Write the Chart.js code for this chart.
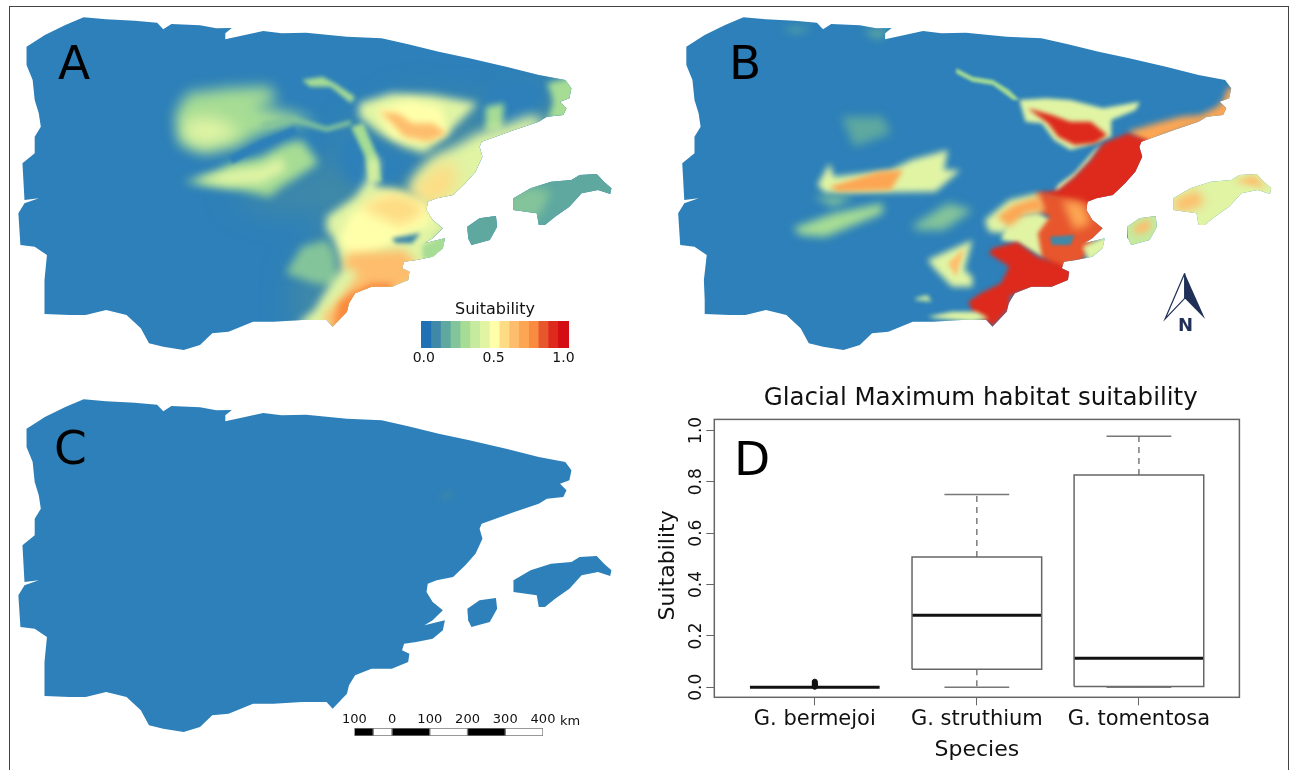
<!DOCTYPE html>
<html>
<head>
<meta charset="utf-8">
<script src="https://cdn.jsdelivr.net/npm/chart.js@4"></script>
<style>
  html, body { margin: 0; background: #fff; width: 1290px; height: 770px; overflow: hidden; }
  canvas { position: absolute; }
  #frame { position: absolute; left: 9px; top: 6px; width: 1278px; height: 800px; border: 1px solid #444; }
  .tag { position: absolute; font: 47px "DejaVu Sans"; color: #000; line-height: 48px; }
  #km { position: absolute; left: 560px; top: 713px; font: 13px "DejaVu Sans"; color: #111; }
  #north { position: absolute; left: 1178px; top: 314px; font: bold 18px "DejaVu Sans"; color: #1f2f57; }
</style>
</head>
<body>
<div id="frame"></div>
<canvas id="mapA" width="640" height="385" style="left:0;top:0"></canvas>
<canvas id="mapB" width="640" height="385" style="left:650px;top:0"></canvas>
<canvas id="mapC" width="640" height="385" style="left:0;top:382px"></canvas>
<canvas id="legendBar" width="190" height="70" style="left:400px;top:300px"></canvas>
<canvas id="scaleBar" width="220" height="40" style="left:340px;top:705px"></canvas>
<canvas id="boxes" width="640" height="390" style="left:650px;top:380px"></canvas>
<div class="tag" style="left:58px;top:39px">A</div>
<div class="tag" style="left:729px;top:39px">B</div>
<div class="tag" style="left:54px;top:424px">C</div>
<div class="tag" style="left:734px;top:435px">D</div>
<div id="km">km</div>
<div id="north">N</div>
<script>
// map units are raster cells, x 0-1568 and y 0-1155 for every panel
const coastX = [205,260,330,385,400,420,490,530,568,552,552,600,645,690,750,850,935,1000,1075,1150,1240,1320,1385,1400,1395,1372,1388,1380,1340,1320,1260,1180,1175,1182,1165,1140,1110,1070,1048,1045,1060,1085,1060,1040,1090,1085,1060,1020,990,985,1003,1000,960,910,870,855,850,815,800,740,670,620,590,560,520,490,450,400,365,345,310,260,210,170,110,110,108,115,85,50,45,60,95,60,55,85,85,100,95,85,80,65,65,110,160,205];
const coastY = [52,58,62,68,88,72,76,85,84,100,118,105,93,100,98,110,115,133,155,175,200,225,240,265,295,305,325,345,350,365,390,425,440,470,515,550,585,595,605,630,660,685,715,730,715,745,770,780,785,805,815,840,860,860,880,910,935,980,960,960,965,965,980,995,1000,1035,1050,1040,1030,985,945,930,945,945,942,900,840,765,740,735,640,610,595,600,490,460,410,380,340,300,240,195,140,105,75,52];
const mallorcaX = [1258,1300,1350,1400,1420,1462,1480,1498,1495,1465,1425,1395,1360,1335,1320,1315,1258,1258];
const mallorcaY = [595,565,545,540,525,522,545,565,582,570,580,620,650,675,675,640,630,595];
const ibizaX = [1145,1175,1215,1218,1200,1155,1147,1145];
const ibizaY = [680,655,648,680,720,735,715,680];
const panelBShift = 24;

const legendBreaks = [-0.02,0.05,0.12,0.19,0.26,0.33,0.40,0.47,0.54,0.61,0.68,0.75,0.82,0.89,0.96,1.04];
const legendColors = ["#1f70b4","#3f88a8","#5ea8a0","#84c49a","#a6dc94","#c6ea9e","#e0f4a4","#ffffaa","#fddc85","#fdbd6c","#fca653","#f98a3f","#e7562d","#dd2a1c","#d40d14"];
const legendTicks = [0, 0.5, 1];
const landColor = "#2d80b9";

const scaleBreaks = [-100,-50,0,100,200,300,400];
const scaleColors = ["#000","#fff","#000","#fff","#000","#fff"];
const scaleTicks = [-100,0,100,200,300,400];

const species = ["G. bermejoi","G. struthium","G. tomentosa"];
const boxLow = [0, 0, 0];
const boxQ1 = [0, 0.07, 0.003];
const boxMedian = [0, 0.28, 0.113];
const boxQ3 = [0.001, 0.507, 0.826];
const boxHigh = [0.001, 0.75, 0.977];
const bermejoiOutliers = [0.002,0.005,0.008,0.011,0.014,0.018,0.022];
const suitTicks = [0,0.2,0.4,0.6,0.8,1];

// panel A suitability patches: value, softness, then x,y pairs
const aEastFade = [560,590,640,560,790,500,860,370,1000,280,1180,300,1340,235,1420,260,1410,360,1210,440,1220,600,1110,720,1110,790,1030,850,870,960,815,1000,710,975,720,800,790,700,800,640,650,640];
const aMidBlue = [880,390,960,440,1040,470,1000,530,950,560,880,570,830,520,820,420];
const aPyrBlue = [1220,230,1330,240,1340,300,1290,360,1240,380,1180,350,1180,290];
const aMeseta = [430,340,460,280,560,265,660,260,680,300,620,320,720,340,780,370,720,370,640,400,580,440,500,460,440,430];
const aMesetaCore = [450,360,520,350,590,390,560,420,490,440,450,410];
const aCentral = [450,545,520,520,570,490,640,470,700,430,740,420,770,470,780,490,730,530,690,560,660,590,590,570,520,560];
const aCentralCore = [480,540,570,510,640,500,690,470,700,510,640,550,560,555];
const aDarkCleft = [560,470,640,420,720,380,730,400,640,445,570,490];
const aMidStreak = [640,370,720,350,800,380,860,360,860,375,800,395,720,365,650,385];
const aRiverStreak = [860,380,890,370,925,470,935,545,905,545,895,470];
const aEbroThin = [740,240,790,230,820,250,870,290,860,310,810,260,760,260];
const aEbroBasin = [880,310,960,280,1060,285,1170,310,1130,360,1080,420,1040,460,990,440,930,400,880,350];
const aEbroCore = [920,330,1000,300,1080,320,1100,400,1030,430,960,410];
const aEbroOrange = [930,335,975,340,1010,370,1060,370,1095,400,1050,425,990,410,960,370];
const aPyrenees = [1190,320,1235,310,1230,390,1190,395];
const aCatalan = [1130,430,1170,400,1240,375,1300,345,1340,365,1280,410,1210,440,1220,600,1110,620,1048,625,1000,570,1020,520,1060,470];
const aValencia = [1040,530,1090,480,1120,510,1115,565,1080,605,1040,615,1005,565];
const aEast = [800,650,870,590,900,540,905,470,930,480,920,560,980,570,1040,600,1070,640,1110,690,1060,720,1110,720,1090,790,1030,810,1030,860,960,880,870,890,850,950,815,1000,760,985,730,970,770,930,800,870,840,800,820,720,800,690];
const aEastCore = [860,640,940,580,1040,610,1060,670,1000,700,920,760,860,780,830,720];
const aEastOrange = [880,620,960,580,1020,600,1040,640,980,680,930,650];
const aBlueCut = [960,715,1030,700,1010,730,970,730];
const aMurcia = [850,760,990,750,1020,790,1030,850,960,880,880,890,860,950,815,1000,790,950,830,900,880,820,840,800];
const aMurciaDeep = [860,880,910,850,960,850,960,870,880,895,860,950,815,990,830,910];
const aTail = [1035,735,1100,705,1110,750,1070,790,1035,775];
const aCreus = [1340,250,1400,230,1420,270,1410,300,1400,360,1340,360,1355,310,1350,280];
const aStreaks = [700,820,740,740,800,720,820,760,830,860,770,850];
const aMallorcaBase = [1240,510,1520,500,1520,600,1340,700,1240,650];
const aMallorcaWest = [1240,590,1300,560,1350,575,1320,650,1240,650];
const aIbizaBase = [1130,640,1230,640,1230,745,1130,745];
const patchesA = [[0.13,14,aEastFade],[0,7,aMidBlue],[0,6,aPyrBlue],[0.14,2,aMallorcaBase],[0.14,2,aIbizaBase],[0.2,5,aMallorcaWest],[0.2,4,aStreaks],[0.3,7,aMeseta],[0.4,8,aMesetaCore],[0.28,5,aCentral],[0.4,5,aCentralCore],[0,1.5,aDarkCleft],[0.2,2,aMidStreak],[0.3,2,aRiverStreak],[0.3,2,aEbroThin],[0.4,4,aEbroBasin],[0.47,4,aEbroCore],[0.6,3,aEbroOrange],[0.33,3,aPyrenees],[0.42,4,aEast],[0.45,6,aCatalan],[0.58,8,aValencia],[0.5,5,aEastCore],[0.56,6,aEastOrange],[0.1,2,aBlueCut],[0.6,5,aMurcia],[0.78,3,aMurciaDeep],[0.32,2,aTail],[0.28,3,aCreus]];

// panel B suitability patches
const bThin = [750,205,790,230,840,240,880,270,905,300,890,300,840,255,790,245,750,220];
const bEbroFringe = [905,300,970,295,1030,300,1110,325,1200,305,1190,330,1130,360,1130,410,1090,430,1030,450,990,420,960,370,920,365];
const bEbroRed = [925,325,985,345,1030,365,1080,365,1120,405,1090,430,1040,435,1000,410,975,370];
const bStrip = [1170,395,1240,370,1300,350,1350,345,1390,320,1405,300,1415,265,1450,260,1440,350,1365,370,1320,385,1260,410,1220,440];
const bFringe = [1000,555,1040,520,1090,450,1110,430,1080,480,1040,535,990,585];
const bMain = [1110,430,1170,400,1220,420,1240,470,1210,530,1170,570,1130,610,1075,615,1065,650,1000,600,950,580,1000,570,1040,530,1080,480];
const bRing = [880,650,950,640,1050,700,960,770,900,730,860,720];
const bMiddle = [950,575,1010,590,1075,610,1090,645,1125,685,1090,720,1060,780,1000,810,960,770,950,700,980,650,930,620];
const bPalePeach = [1010,600,1060,610,1080,670,1040,690];
const bArmHalo = [820,660,880,600,950,580,960,640,900,650,870,700,830,695];
const bArm = [850,650,890,615,950,590,970,630,920,640,880,680];
const bSouth = [840,745,900,725,950,770,1000,790,1040,815,1035,860,960,880,910,875,880,890,885,920,840,980,790,935,780,905,810,880,860,850,880,800,830,760];
const bTailWest = [680,950,740,935,800,935,830,955,790,965,700,955];
const bGapBlue = [980,710,1040,705,1030,735,985,735];
const bBand = [410,555,440,490,450,530,590,510,640,480,730,450,720,510,760,510,700,575,430,580];
const bBandOrange = [440,560,560,515,620,510,590,570,460,575];
const bLower = [350,685,450,640,570,610,570,640,430,710,370,705];
const bLowerEast = [640,680,730,610,790,630,720,690,660,690];
const bUnderBand = [400,590,500,590,450,620];
const bFaint = [470,350,570,350,590,400,500,440];
const bBetic = [680,780,790,720,770,810,790,830,790,860,740,860,700,810];
const bBeticOrange = [730,790,770,745,750,830,745,820];
const bSmall = [650,895,680,885,690,905,650,900];
const bMallorca = [1260,510,1540,500,1540,600,1360,700,1260,650];
const bMallorcaWest = [1285,600,1340,570,1360,610,1310,635,1285,630];
const bMallorcaEast = [1430,545,1480,525,1510,565,1450,550];
const bIbiza = [1150,640,1250,640,1250,745,1150,745];
const bIbizaCore = [1185,680,1225,655,1225,690,1190,705];
const bAlicante = [1060,740,1120,705,1125,745,1075,785];
const bNorthA = [320,85,400,80,360,100];
const bNorthB = [520,90,590,85,560,120];
const patchesB = [[0.14,5,bFaint],[0.14,4,bNorthA],[0.14,4,bNorthB],[0.28,1.5,bThin],[0.42,2,bEbroFringe],[0.9,2,bEbroRed],[0.68,3,bStrip],[0.5,2,bFringe],[0.42,2,bRing],[0.92,2,bMain],[0.86,2,bMiddle],[0.7,4,bPalePeach],[0.45,3,bArmHalo],[0.7,3,bArm],[0.92,2,bSouth],[0.45,2,bTailWest],[0.07,1.5,bGapBlue],[0.42,3,bBand],[0.68,2.5,bBandOrange],[0.3,4,bLower],[0.22,5,bLowerEast],[0.22,4,bUnderBand],[0.42,3,bBetic],[0.62,2,bBeticOrange],[0.35,2,bSmall],[0.42,2,bMallorca],[0.62,5,bMallorcaWest],[0.6,3,bMallorcaEast],[0.34,2,bIbiza],[0.6,3,bIbizaCore],[0.4,2,bAlicante]];

const cFaint = [1075,345,1105,325,1110,340,1085,355];
const patchesC = [[0.07,3,cFaint]];

// north arrow, panel B units
const arrowDarkX = [1310,1360,1310,1310];
const arrowDarkY = [820,957,895,820];
const arrowLightX = [1310,1262,1310,1310];
const arrowLightY = [820,957,895,820];

function polygon(xs, ys, color) {
  return { data: xs.map((x, i) => ({ x: x, y: ys[i] })), showLine: true, fill: "shape", backgroundColor: color, borderColor: color, borderWidth: 0, pointRadius: 0, tension: 0 };
}

function patch(value, soft, flat) {
  const xs = [], ys = [];
  for (let i = 0; i < flat.length; i += 2) { xs.push(flat[i]); ys.push(flat[i + 1]); }
  xs.push(flat[0]); ys.push(flat[1]);
  const color = value === 0 ? landColor : legendColors[Math.min(14, Math.floor(value * 15))];
  const d = polygon(xs, ys, color);
  d.soft = soft;
  return d;
}

function showMap(id, shift, patches, extras) {
  const land = [
    polygon(coastX.map((x) => x + shift), coastY, landColor),
    polygon(mallorcaX.map((x) => x + shift), mallorcaY, landColor),
    polygon(ibizaX.map((x) => x + shift), ibizaY, landColor),
  ];
  const all = land.concat(patches.map((p) => patch(p[0], p[1], p[2]))).concat(extras);
  all.forEach((d, i) => { d.order = all.length - i; });
  const lastPatch = land.length + patches.length - 1;

  const landClip = {
    id: "landClip",
    afterDatasetDraw(chart, args) {
      const ctx = chart.ctx;
      if (args.index === land.length - 1) {
        ctx.save();
        ctx.beginPath();
        land.forEach((d) => {
          d.data.forEach((p, i) => {
            const px = chart.scales.x.getPixelForValue(p.x);
            const py = chart.scales.y.getPixelForValue(p.y);
            if (i === 0) ctx.moveTo(px, py); else ctx.lineTo(px, py);
          });
          ctx.closePath();
        });
        ctx.clip();
      }
      if (args.index >= land.length - 1 && args.index < lastPatch) {
        ctx.filter = "blur(" + all[args.index + 1].soft + "px)";
      }
      if (args.index === lastPatch) ctx.restore();
    },
  };

  return new Chart(document.getElementById(id), {
    type: "scatter",
    data: { datasets: all },
    options: {
      responsive: false,
      animation: false,
      plugins: { legend: { display: false }, tooltip: { enabled: false } },
      layout: { padding: 0 },
      scales: {
        x: { display: false, min: 0, max: 1568 },
        y: { display: false, min: 0, max: 1155, reverse: true },
      },
    },
    plugins: [landClip],
  });
}

showMap("mapA", 0, patchesA, []);
showMap("mapB", panelBShift, patchesB, [
  polygon(arrowDarkX, arrowDarkY, "#1f2f57"),
  { data: arrowLightX.map((x, i) => ({ x: x, y: arrowLightY[i] })), showLine: true, borderColor: "#1f2f57", borderWidth: 1.2, pointRadius: 0 },
]);
showMap("mapC", 0, patchesC, []);

new Chart(document.getElementById("legendBar"), {
  type: "bar",
  data: {
    labels: ["Suitability"],
    datasets: legendColors.map((c, i) => ({ data: [[legendBreaks[i], legendBreaks[i + 1]]], backgroundColor: c, grouped: false, barPercentage: 1, categoryPercentage: 1 })),
  },
  options: {
    indexAxis: "y",
    responsive: false,
    animation: false,
    layout: { padding: { left: 21, right: 21 } },
    plugins: {
      legend: { display: false },
      tooltip: { enabled: false },
      title: { display: true, text: "Suitability", color: "#111", font: { family: "DejaVu Sans", size: 16, weight: "normal" }, padding: { top: 0, bottom: 1.8 } },
    },
    scales: {
      y: { display: false },
      x: {
        min: -0.02, max: 1.04,
        grid: { display: false, drawTicks: false }, border: { display: false },
        afterBuildTicks: (s) => { s.ticks = legendTicks.map((v) => ({ value: v })); },
        afterFit: (s) => { s.height = 22; },
        ticks: { color: "#111", padding: 2, maxRotation: 0, font: { family: "DejaVu Sans", size: 14 }, callback: (v) => v.toFixed(1) },
      },
    },
  },
});

new Chart(document.getElementById("scaleBar"), {
  type: "bar",
  data: {
    labels: ["km"],
    datasets: scaleColors.map((c, i) => ({ data: [[scaleBreaks[i], scaleBreaks[i + 1]]], backgroundColor: c, borderColor: "#777", borderWidth: 1, borderSkipped: false, grouped: false, barPercentage: 1, categoryPercentage: 1 })),
  },
  options: {
    indexAxis: "y",
    responsive: false,
    animation: false,
    layout: { padding: { left: 14.3, right: 17, bottom: 9 } },
    plugins: { legend: { display: false }, tooltip: { enabled: false } },
    scales: {
      y: { display: false },
      x: {
        position: "top", min: -100, max: 400,
        grid: { display: false, drawTicks: false }, border: { display: false },
        afterBuildTicks: (s) => { s.ticks = scaleTicks.map((v) => ({ value: v })); },
        afterFit: (s) => { s.height = 23; },
        ticks: { color: "#111", padding: 1, maxRotation: 0, font: { family: "DejaVu Sans", size: 13 }, callback: (v) => Math.abs(v) },
      },
    },
  },
});

// box plot
const boxSets = [];
function seg(xs, ys, color, width, dash) {
  boxSets.push({ data: xs.map((x, i) => ({ x: x, y: ys[i] })), showLine: true, borderColor: color, borderWidth: width, borderDash: dash || [], pointRadius: 0 });
}
species.forEach((name, i) => {
  const c = i + 1;
  if (i > 0) {
    seg([c, c], [boxQ3[i], boxHigh[i]], "#666", 1.3, [6, 5]);
    seg([c, c], [boxQ1[i], boxLow[i]], "#666", 1.3, [6, 5]);
    seg([c - 0.2, c + 0.2], [boxHigh[i], boxHigh[i]], "#777", 1.5);
    seg([c - 0.2, c + 0.2], [boxLow[i], boxLow[i]], "#777", 1.5);
    seg([c - 0.4, c + 0.4, c + 0.4, c - 0.4, c - 0.4], [boxQ1[i], boxQ1[i], boxQ3[i], boxQ3[i], boxQ1[i]], "#666", 1.5);
  }
  seg([c - 0.4, c + 0.4], [boxMedian[i], boxMedian[i]], "#111", 3);
});
boxSets.push({ data: bermejoiOutliers.map((v) => ({ x: 1, y: v })), pointRadius: 2.5, pointBackgroundColor: "#111", pointBorderColor: "#111" });

const plotBorder = {
  id: "plotBorder",
  afterDraw(chart) {
    const a = chart.chartArea, ctx = chart.ctx;
    ctx.save();
    ctx.strokeStyle = "#666";
    ctx.lineWidth = 1.5;
    ctx.strokeRect(a.left, a.top, a.right - a.left, a.bottom - a.top);
    ctx.restore();
  },
};

new Chart(document.getElementById("boxes"), {
  type: "scatter",
  data: { datasets: boxSets },
  options: {
    responsive: false,
    animation: false,
    layout: { padding: { right: 50.6 } },
    plugins: {
      legend: { display: false },
      tooltip: { enabled: false },
      title: { display: true, fullSize: false, text: "\u00a0Glacial Maximum habitat suitability", color: "#111", font: { family: "DejaVu Sans", size: 24.5, weight: "normal" }, padding: { top: 4, bottom: 6 } },
    },
    scales: {
      x: {
        min: 0.38, max: 3.62,
        grid: { display: true, drawOnChartArea: false, tickLength: 8, color: "#666" },
        border: { display: false },
        afterBuildTicks: (s) => { s.ticks = species.map((n, i) => ({ value: i + 1 })); },
        afterFit: (s) => { s.height = 72.7; },
        ticks: { color: "#111", padding: 2, maxRotation: 0, font: { family: "DejaVu Sans", size: 21 }, callback: (v) => species[v - 1] },
        title: { display: true, text: "Species", color: "#111", font: { family: "DejaVu Sans", size: 22 }, padding: { top: 0, bottom: 7 } },
      },
      y: {
        min: -0.0389, max: 1.0428,
        grid: { display: true, drawOnChartArea: false, tickLength: 8, color: "#666" },
        border: { display: false },
        afterBuildTicks: (s) => { s.ticks = suitTicks.map((v) => ({ value: v })); },
        afterFit: (s) => { s.width = 64.3; },
        ticks: { color: "#111", padding: -4, minRotation: 90, maxRotation: 90, crossAlign: "center", font: { family: "DejaVu Sans", size: 17 }, callback: (v) => v.toFixed(1) },
        title: { display: true, text: "Suitability\u00a0\u00a0", color: "#111", font: { family: "DejaVu Sans", size: 22 }, padding: { top: 5, bottom: 0 } },
      },
    },
  },
  plugins: [plotBorder],
});
</script>
</body>
</html>
